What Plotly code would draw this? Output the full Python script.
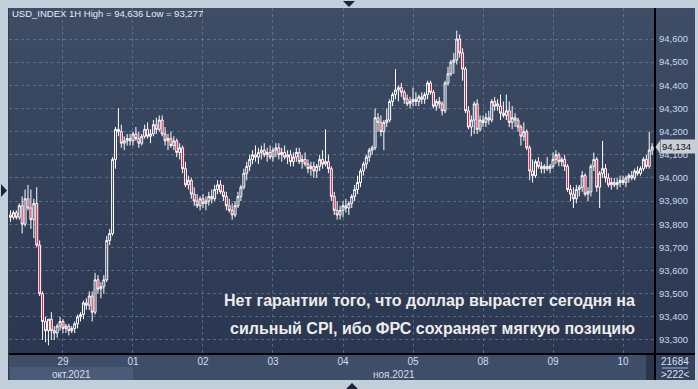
import plotly.graph_objects as go

# ---------------- data ----------------
opens = [93.84,93.83,93.85,93.83,93.88,93.80,93.91,93.87,93.82,93.89,93.71,93.50,93.38,93.34,93.39,93.34,93.33,93.36,93.38,93.35,
         93.36,93.34,93.35,93.37,93.40,93.41,93.46,93.45,93.49,93.42,93.56,93.52,93.53,93.56,93.73,93.76,94.08,94.21,94.20,94.15,
         94.16,94.17,94.16,94.19,94.17,94.15,94.18,94.21,94.18,94.19,94.23,94.21,94.25,94.19,94.16,94.17,94.14,94.16,94.11,94.13,
         94.04,93.97,93.99,93.93,93.90,93.88,93.91,93.89,93.90,93.92,93.91,93.95,93.97,93.94,93.92,93.88,93.86,93.84,93.88,93.92,
         93.96,94.02,94.05,94.08,94.10,94.09,94.11,94.12,94.10,94.11,94.09,94.12,94.13,94.10,94.11,94.09,94.10,94.07,94.09,94.11,
         94.07,94.08,94.06,94.04,94.05,94.03,94.05,94.08,94.06,94.07,94.04,93.92,93.86,93.84,93.86,93.88,93.87,93.89,93.92,93.95,
         93.98,94.03,94.06,94.09,94.12,94.13,94.26,94.24,94.20,94.24,94.25,94.33,94.36,94.38,94.39,94.37,94.34,94.32,94.33,94.34,
         94.33,94.35,94.34,94.36,94.41,94.37,94.31,94.33,94.32,94.29,94.41,94.45,94.50,94.51,94.60,94.54,94.47,94.29,94.22,94.25,
         94.32,94.21,94.25,94.24,94.26,94.25,94.33,94.31,94.31,94.28,94.27,94.29,94.24,94.26,94.25,94.22,94.18,94.20,94.13,94.03,
         94.01,94.07,94.05,94.04,94.05,94.04,94.05,94.08,94.10,94.07,94.08,94.05,93.95,93.93,93.91,93.95,93.96,94.01,93.93,93.94,
         94.05,94.08,93.96,94.02,94.04,94.00,93.97,93.98,93.97,93.98,93.99,93.98,94.00,94.01,94.00,94.03,94.02,94.04,94.08,94.05,
         94.12]
highs = [93.86,93.86,93.86,93.89,93.92,93.95,93.97,93.95,93.91,93.96,93.73,93.51,93.40,93.39,93.42,93.36,93.37,93.40,93.39,93.37,
         93.37,93.36,93.38,93.41,93.42,93.47,93.48,93.51,93.51,93.59,93.58,93.55,93.58,93.75,93.78,94.09,94.22,94.30,94.23,94.18,
         94.19,94.19,94.20,94.22,94.20,94.19,94.23,94.24,94.21,94.25,94.26,94.27,94.27,94.22,94.19,94.20,94.18,94.17,94.15,94.14,
         94.07,94.01,94.00,93.96,93.93,93.92,93.93,93.92,93.94,93.95,93.97,93.99,93.99,93.97,93.94,93.91,93.89,93.90,93.94,93.97,
         94.04,94.07,94.10,94.12,94.14,94.13,94.14,94.15,94.13,94.14,94.13,94.15,94.15,94.13,94.14,94.12,94.12,94.11,94.13,94.13,
         94.10,94.11,94.08,94.07,94.07,94.06,94.10,94.12,94.21,94.10,94.05,93.94,93.90,93.88,93.90,93.91,93.90,93.93,93.97,94.01,
         94.04,94.07,94.10,94.13,94.14,94.30,94.28,94.27,94.25,94.30,94.34,94.37,94.47,94.40,94.41,94.38,94.36,94.35,94.39,94.37,
         94.36,94.37,94.37,94.42,94.42,94.38,94.34,94.35,94.33,94.42,94.48,94.51,94.54,94.636,94.62,94.56,94.48,94.31,94.27,94.33,
         94.34,94.27,94.27,94.28,94.29,94.34,94.35,94.34,94.36,94.33,94.36,94.33,94.31,94.28,94.26,94.23,94.24,94.21,94.14,94.08,
         94.08,94.09,94.07,94.06,94.09,94.06,94.11,94.12,94.11,94.09,94.10,94.06,93.97,93.96,93.97,93.97,94.03,94.02,93.96,94.06,
         94.11,94.09,94.03,94.16,94.06,94.02,94.00,94.00,94.00,94.01,94.01,94.01,94.02,94.03,94.04,94.05,94.05,94.09,94.10,94.20,
         94.15]
lows = [93.81,93.82,93.82,93.82,93.76,93.79,93.86,93.78,93.74,93.70,93.49,93.30,93.29,93.277,93.30,93.30,93.31,93.34,93.33,93.33,
        93.32,93.33,93.33,93.35,93.38,93.39,93.43,93.43,93.38,93.41,93.50,93.48,93.50,93.55,93.71,93.75,94.04,94.18,94.13,94.12,
        94.14,94.14,94.14,94.16,94.13,94.14,94.17,94.17,94.15,94.18,94.19,94.20,94.18,94.14,94.12,94.13,94.12,94.09,94.08,94.02,
        93.96,93.95,93.91,93.88,93.87,93.86,93.87,93.86,93.88,93.89,93.90,93.93,93.93,93.90,93.86,93.85,93.82,93.83,93.87,93.90,
        93.95,93.99,94.03,94.06,94.07,94.06,94.08,94.09,94.07,94.08,94.07,94.09,94.08,94.07,94.08,94.06,94.05,94.05,94.07,94.06,
        94.04,94.05,94.02,94.01,94.00,94.00,94.03,94.04,94.05,94.02,93.90,93.84,93.82,93.82,93.83,93.85,93.84,93.87,93.90,93.93,
        93.96,94.01,94.04,94.07,94.10,94.12,94.20,94.18,94.12,94.22,94.24,94.31,94.34,94.33,94.35,94.32,94.31,94.30,94.31,94.31,
        94.31,94.32,94.32,94.34,94.36,94.30,94.29,94.30,94.27,94.28,94.40,94.44,94.45,94.49,94.52,94.42,94.28,94.21,94.18,94.19,
        94.19,94.20,94.22,94.22,94.23,94.24,94.29,94.29,94.25,94.26,94.25,94.22,94.21,94.22,94.20,94.14,94.16,94.12,93.99,93.98,
        94.00,94.04,94.02,94.02,94.03,94.02,94.04,94.06,94.05,94.05,94.03,93.94,93.90,93.87,93.89,93.92,93.94,93.92,93.90,93.92,
        94.03,93.94,93.87,94.00,93.98,93.96,93.95,93.96,93.95,93.96,93.97,93.96,93.98,93.99,93.99,94.01,94.01,94.03,94.04,94.04,
        94.10]
closes = [93.83,93.85,93.83,93.88,93.80,93.91,93.87,93.82,93.89,93.71,93.50,93.38,93.34,93.39,93.34,93.33,93.36,93.38,93.35,93.36,
          93.34,93.35,93.37,93.40,93.41,93.46,93.45,93.49,93.42,93.56,93.52,93.53,93.56,93.73,93.76,94.08,94.21,94.20,94.15,94.16,
          94.17,94.16,94.19,94.17,94.15,94.18,94.21,94.18,94.19,94.23,94.21,94.25,94.19,94.16,94.17,94.14,94.16,94.11,94.13,94.04,
          93.97,93.99,93.93,93.90,93.88,93.91,93.89,93.90,93.92,93.91,93.95,93.97,93.94,93.92,93.88,93.86,93.84,93.88,93.92,93.96,
          94.02,94.05,94.08,94.10,94.09,94.11,94.12,94.10,94.11,94.09,94.12,94.13,94.10,94.11,94.09,94.10,94.07,94.09,94.11,94.07,
          94.08,94.06,94.04,94.05,94.03,94.05,94.08,94.06,94.07,94.04,93.92,93.86,93.84,93.86,93.88,93.87,93.89,93.92,93.95,93.98,
          94.03,94.06,94.09,94.12,94.13,94.26,94.24,94.20,94.24,94.25,94.33,94.36,94.38,94.39,94.37,94.34,94.32,94.33,94.34,94.33,
          94.35,94.34,94.36,94.41,94.37,94.31,94.33,94.32,94.29,94.41,94.45,94.50,94.51,94.60,94.54,94.47,94.29,94.22,94.25,94.32,
          94.21,94.25,94.24,94.26,94.25,94.33,94.31,94.32,94.28,94.27,94.29,94.24,94.26,94.25,94.22,94.18,94.20,94.13,94.03,94.01,
          94.07,94.05,94.04,94.05,94.04,94.05,94.08,94.10,94.07,94.08,94.05,93.95,93.93,93.91,93.95,93.96,94.01,93.93,93.94,94.05,
          94.08,93.96,94.02,94.04,94.00,93.97,93.98,93.97,93.98,93.99,93.98,94.00,94.01,94.00,94.03,94.02,94.04,94.08,94.05,94.12,
          94.134]

# trading days (hourly bars) and how many bars of each are shown
trade_days = ["2021-10-28", "2021-10-29", "2021-11-01", "2021-11-02", "2021-11-03",
              "2021-11-04", "2021-11-05", "2021-11-08", "2021-11-09", "2021-11-10"]
first_hour = [6, 0, 0, 0, 0, 0, 0, 0, 0, 0]
last_hour = [23, 23, 23, 23, 23, 23, 23, 23, 23, 10]
day_labels = ["29", "01", "02", "03", "04", "05", "08", "09", "10"]
month_labels = ["окт.2021", "ноя.2021"]
symbol = "USD_INDEX 1H"
footer_top = "21684"
footer_bottom = ">222<"
headline = ["Нет гарантии того, что доллар вырастет сегодня на",
            "сильный CPI, ибо ФРС сохраняет мягкую позицию"]

times = []
for d, h0, h1 in zip(trade_days, first_hour, last_hour):
    for h in range(h0, h1 + 1):
        times.append(f"{d} {h:02d}:00")
n = len(closes)
times = times[:n]
day_ticks = [f"{d} 00:00" for d in trade_days[1:]]
nov_start = times.index("2021-11-01 00:00")

def fmt(v):
    return f"{v:.3f}".replace(".", ",")

# ---------------- geometry helpers (pixels -> paper) ----------------
W, H = 698, 389
L, R, T, B = 9, 43, 8, 35
PW, PH = W - L - R, H - T - B
def px(x):
    return (x - L) / PW
def py(y):
    return (H - B - y) / PH

x_lo, x_hi = -0.51, n - 1 + 0.97
y_lo, y_hi = 93.2395, 94.734

fig = go.Figure()
fig.add_trace(go.Candlestick(
    x=times, open=opens, high=highs, low=lows, close=closes,
    increasing=dict(line=dict(color="#ffffff", width=1), fillcolor="rgba(0,0,0,0)"),
    decreasing=dict(line=dict(color="#ffffff", width=1), fillcolor="#e8002f"),
    whiskerwidth=0, hoverinfo="skip", showlegend=False,
))

shapes = []
# dark frame
shapes.append(dict(type="rect", xref="paper", yref="paper", x0=px(8), x1=px(695), y0=py(380), y1=py(8),
                   fillcolor="#2f3b55", line=dict(width=0), layer="below"))
# gradient background bands (plot + right axis)
nb = 36
c_top, c_bot = (62, 76, 101), (43, 55, 81)
for k in range(nb):
    t = (k + 0.5) / nb
    c = tuple(round(a + (b - a) * t) for a, b in zip(c_top, c_bot))
    y0 = 8 + (354 - 8) * k / nb
    y1 = 8 + (354 - 8) * (k + 1) / nb + 0.6
    shapes.append(dict(type="rect", xref="paper", yref="paper", x0=px(9), x1=px(695),
                       y0=py(min(y1, 354)), y1=py(y0), fillcolor=f"rgb{c}", line=dict(width=0), layer="below"))
# bottom time strip
shapes.append(dict(type="rect", xref="paper", yref="paper", x0=px(9), x1=px(655), y0=py(380), y1=py(354),
                   fillcolor="#3e4d68", line=dict(width=0), layer="below"))
shapes.append(dict(type="rect", xref="x", yref="paper", x0=x_lo + 0.3, x1=nov_start, y0=py(380), y1=py(367),
                   fillcolor="#4b5b77", line=dict(width=0), layer="below"))
shapes.append(dict(type="rect", xref="paper", yref="paper", x0=px(646), x1=px(654), y0=py(380), y1=py(355),
                   fillcolor="#2b364e", line=dict(width=0), layer="below"))
shapes.append(dict(type="rect", xref="paper", yref="paper", x0=px(656), x1=px(695), y0=py(380), y1=py(355),
                   fillcolor="#34425d", line=dict(width=0), layer="below"))
shapes.append(dict(type="line", xref="paper", yref="paper", x0=px(662), x1=px(688), y0=py(368), y1=py(368),
                   line=dict(color="#9fb3d1", width=1)))
# black separators
shapes.append(dict(type="line", xref="paper", yref="paper", x0=px(655), x1=px(655), y0=py(380), y1=py(8),
                   line=dict(color="#000000", width=2)))
shapes.append(dict(type="line", xref="paper", yref="paper", x0=px(9), x1=px(695), y0=py(354), y1=py(354),
                   line=dict(color="#000000", width=2)))
# small navigation triangles
tri = "#1c2538"
shapes.append(dict(type="path", xref="paper", yref="paper",
                   path=f"M {px(343)},{py(1)} L {px(355)},{py(1)} L {px(349)},{py(7)} Z",
                   fillcolor=tri, line=dict(width=0)))
shapes.append(dict(type="path", xref="paper", yref="paper",
                   path=f"M {px(346)},{py(389)} L {px(358)},{py(389)} L {px(352)},{py(383)} Z",
                   fillcolor=tri, line=dict(width=0)))
shapes.append(dict(type="path", xref="paper", yref="paper",
                   path=f"M {px(1)},{py(184)} L {px(1)},{py(197)} L {px(7)},{py(190.5)} Z",
                   fillcolor=tri, line=dict(width=0)))
# last price pointer
shapes.append(dict(type="path", xref="paper", yref="y",
                   path=f"M {px(655.5)},{closes[-1]} L {px(660)},{closes[-1] + 0.028} L {px(660)},{closes[-1] - 0.028} Z",
                   fillcolor="#c9ced6", line=dict(width=0)))

font = "Liberation Sans, Arial, sans-serif"
ann = []
ann.append(dict(xref="paper", yref="paper", x=px(10), y=py(6), xanchor="left", yanchor="top",
                text=f"{symbol} High = {fmt(max(highs))} Low = {fmt(min(lows))}", showarrow=False,
                font=dict(family=font, size=9.5, color="#e6ebf3")))
for line_txt, yy in zip(headline, [300, 328]):
    ann.append(dict(xref="paper", yref="paper", x=px(637), y=py(yy), xanchor="right", yanchor="middle",
                    text=f"<b>{line_txt}</b>", showarrow=False, font=dict(family=font, size=16, color="#ececec")))
ann.append(dict(xref="x", yref="paper", x=(x_lo + nov_start) / 2, y=py(374), xanchor="center", yanchor="middle",
                text=month_labels[0], showarrow=False, font=dict(family=font, size=10, color="#d3deec")))
ann.append(dict(xref="x", yref="paper", x=(nov_start + x_hi) / 2, y=py(374), xanchor="center", yanchor="middle",
                text=month_labels[1], showarrow=False, font=dict(family=font, size=10, color="#d3deec")))
ann.append(dict(xref="paper", yref="paper", x=px(675), y=py(361), xanchor="center", yanchor="middle",
                text=footer_top, showarrow=False, font=dict(family=font, size=10, color="#d6e2f3")))
ann.append(dict(xref="paper", yref="paper", x=px(675), y=py(374), xanchor="center", yanchor="middle",
                text=footer_bottom, showarrow=False, font=dict(family=font, size=10, color="#d6e2f3")))
ann.append(dict(xref="paper", yref="y", x=px(660), y=closes[-1], xanchor="left", yanchor="middle",
                text=fmt(closes[-1]), showarrow=False, bgcolor="#c9ced6", borderpad=1, width=34, align="left",
                font=dict(family=font, size=9.5, color="#111111")))

yticks = [round(93.3 + 0.1 * k, 1) for k in range(14)]

fig.update_layout(
    width=W, height=H, margin=dict(l=L, r=R, t=T, b=B, pad=0),
    paper_bgcolor="#c3cedb", plot_bgcolor="rgba(0,0,0,0)",
    separators=", ", showlegend=False, boxgap=0.05,
    shapes=shapes, annotations=ann,
    xaxis=dict(type="category", range=[x_lo, x_hi], tickvals=day_ticks, ticktext=day_labels,
               showgrid=True, gridcolor="rgba(125,140,168,0.55)", griddash="3px,3px", gridwidth=1,
               zeroline=False, showline=False, ticks="", tickfont=dict(family=font, size=10, color="#d3deec"),
               rangeslider=dict(visible=False), fixedrange=True),
    yaxis=dict(side="right", range=[y_lo, y_hi], tickvals=yticks, tickformat=".3f",
               showgrid=True, gridcolor="rgba(125,140,168,0.55)", griddash="3px,3px", gridwidth=1,
               zeroline=False, showline=False, ticks="", ticklabelstandoff=3,
               tickfont=dict(family=font, size=9.5, color="#c9d7ee"), fixedrange=True),
)

fig.write_html("out.html")
